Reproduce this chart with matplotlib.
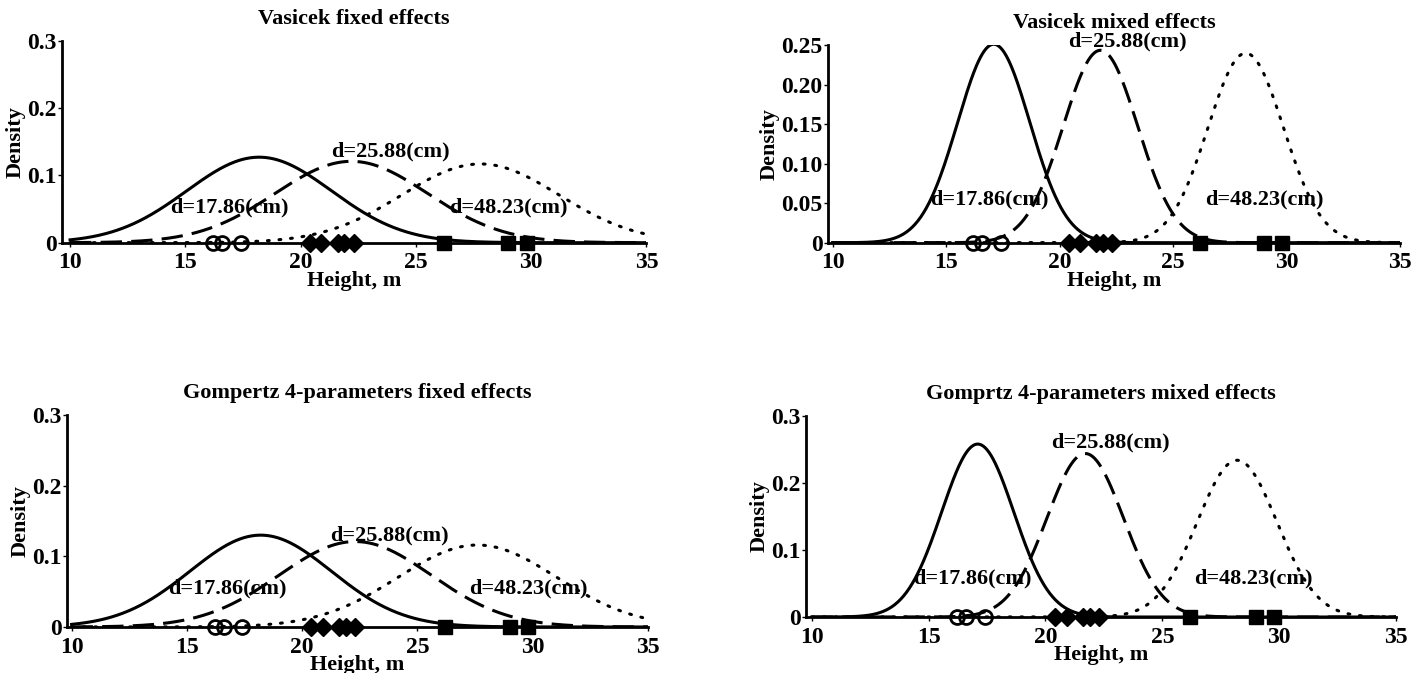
import numpy as np
import matplotlib
matplotlib.use("Agg")
import matplotlib.pyplot as plt

plt.rcParams['font.family'] = ['Liberation Serif', 'DejaVu Serif']
plt.rcParams['font.weight'] = 'bold'

# panel titles
titles = ["Vasicek fixed effects", "Vasicek mixed effects",
          "Gompertz 4-parameters fixed effects", "Gomprtz 4-parameters mixed effects"]

# fitted normal densities: mean and sd of each diameter class (17.86, 25.88, 48.23 cm)
means_tl = [18.2, 22.2, 27.8]
sds_tl = [3.14, 3.30, 3.41]
means_tr = [17.1, 21.8, 28.2]
sds_tr = [1.59, 1.64, 1.665]
means_bl = [18.2, 22.3, 27.6]
sds_bl = [3.07, 3.30, 3.44]
means_br = [17.1, 21.7, 28.2]
sds_br = [1.546, 1.635, 1.705]

# observed heights for each class (drawn on the x axis)
obs_small = [16.2, 16.6, 17.4]
obs_mid = [20.4, 20.9, 21.6, 21.9, 22.3]
obs_large = [26.2, 29.0, 29.8]

class_labels = ["d=17.86(cm)", "d=25.88(cm)", "d=48.23(cm)"]

yticks_03 = [0, 0.1, 0.2, 0.3]
ylabels_03 = ["0", "0.1", "0.2", "0.3"]
yticks_025 = [0, 0.05, 0.10, 0.15, 0.20, 0.25]
ylabels_025 = ["0", "0.05", "0.10", "0.15", "0.20", "0.25"]
xticks = [10, 15, 20, 25, 30, 35]

fig = plt.figure(figsize=(14.22, 6.73), dpi=100)

panels = [
    # rect, xmin, ymax, means, sds, yticks, ylabels, label positions
    ([0.0436, 0.6394, 0.411, 0.300], 9.65, 0.3, means_tl, sds_tl, yticks_03, ylabels_03,
     [(16.9, 0.053), (23.9, 0.135), (29.0, 0.053)]),
    ([0.5823, 0.6394, 0.4023, 0.2938], 9.8, 0.25, means_tr, sds_tr, yticks_025, ylabels_025,
     [(16.9, 0.054), (23.0, 0.254), (29.0, 0.054)]),
    ([0.0471, 0.0684, 0.4086, 0.315], 9.8, 0.3, means_bl, sds_bl, yticks_03, ylabels_03,
     [(16.75, 0.055), (23.8, 0.129), (29.8, 0.055)]),
    ([0.5668, 0.0832, 0.4149, 0.2987], 9.75, 0.3, means_br, sds_br, yticks_03, ylabels_03,
     [(16.85, 0.058), (22.8, 0.26), (28.9, 0.058)]),
]

styles = [dict(linestyle='-'),
          dict(linestyle=(0, (7, 3))),
          dict(linestyle=(0, (0.6, 3.2)), dash_capstyle='round')]

x = np.linspace(10, 35, 600)
for title, (rect, xmin, ymax, means, sds, yt, yl, lpos) in zip(titles, panels):
    ax = fig.add_axes(rect)
    for m, s, st in zip(means, sds, styles):
        y = np.exp(-0.5 * ((x - m) / s) ** 2) / (s * np.sqrt(2 * np.pi))
        ax.plot(x, y, color='black', lw=2.2, **st)
    ax.plot(obs_small, np.zeros(len(obs_small)), 'o', ms=10, mfc='none', mec='black', mew=2, clip_on=False)
    ax.plot(obs_mid, np.zeros(len(obs_mid)), 'D', ms=9, color='black', clip_on=False)
    ax.plot(obs_large, np.zeros(len(obs_large)), 's', ms=10, color='black', clip_on=False)
    for lab, (tx, ty) in zip(class_labels, lpos):
        ax.text(tx, ty, lab, ha='center', va='center', fontsize=16, fontweight='bold')
    ax.set_xlim(xmin, 35)
    ax.set_ylim(0, ymax)
    ax.set_xticks(xticks)
    ax.set_xticklabels([str(t) for t in xticks])
    ax.set_yticks(yt)
    ax.set_yticklabels(yl)
    ax.tick_params(labelsize=17, length=3, width=1, pad=1)
    ax.tick_params(axis='x', pad=4)
    for lab in ax.get_xticklabels() + ax.get_yticklabels():
        lab.set_fontweight('bold')
    ax.spines['top'].set_visible(False)
    ax.spines['right'].set_visible(False)
    ax.spines['left'].set_linewidth(2)
    ax.spines['bottom'].set_linewidth(2)
    ax.set_xlabel("Height, m", fontsize=16, fontweight='bold', labelpad=-2)
    ax.set_ylabel("Density", fontsize=16, fontweight='bold', labelpad=1)
    ax.set_title(title, fontsize=16, fontweight='bold', pad=12)

fig.savefig("out.png", dpi=100)
